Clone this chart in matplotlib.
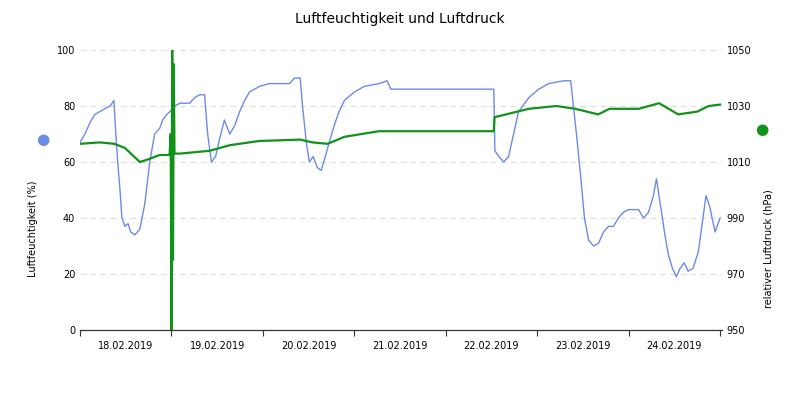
import numpy as np
import matplotlib
matplotlib.use("Agg")
import matplotlib.pyplot as plt

# hours since 18.02.2019 00:00
hum_h = [0, 1.3, 2.6, 3.9, 5.2, 6.5, 7.9, 8.9, 9.4, 9.9, 10.5, 11, 11.8, 12.6, 13.3, 14.4, 15.7, 17, 18.3,
         19.6, 20.9, 21.7, 22.8, 23.6, 24.9, 26.2, 28.8, 30.1, 31.4, 32.7, 33.5, 34.5, 35.6, 36.6, 37.9,
         39.3, 40.6, 41.9, 43.2, 44.5, 47.1, 49.7, 55, 56.3, 57.8, 58.4, 59.4, 60.2, 61.2, 62.3, 63.3,
         64.4, 65.4, 66.7, 68, 69.4, 72, 74.6, 78.5, 80.6, 81.6, 108.6, 108.9, 109.9, 111.2, 112.5,
         113.8, 115.1, 117.8, 120.4, 123, 126.9, 128.8, 129.5, 130.3, 131.4, 132.4, 133.5, 134.8, 136.1,
         137.4, 138.7, 140, 141.3, 142.6, 143.9, 146.6, 147.9, 149.2, 150.5, 151.3, 152.3, 153.4, 154.4,
         155.5, 156.5, 157.5, 158.6, 159.6, 160.9, 162.3, 163, 163.8, 164.3, 165.3, 165.9, 166.7, 168]
hum_v = [67, 70, 74, 77, 78, 79, 80, 82, 70, 60, 50, 40, 37, 38, 35, 34, 36, 45, 60,
         70, 72, 75, 77, 78, 80, 81, 81, 83, 84, 84, 70, 60, 62, 68, 75,
         70, 73, 78, 82, 85, 87, 88, 88, 90, 90, 80, 67, 60, 62, 58, 57,
         62, 67, 73, 78, 82, 85, 87, 88, 89, 86, 86, 64, 62, 60, 62,
         70, 78, 83, 86, 88, 89, 89, 80, 70, 55, 40, 32, 30, 31,
         35, 37, 37, 40, 42, 43, 43, 40, 42, 48, 54, 45, 35, 27,
         22, 19, 22, 24, 21, 22, 28, 35, 43, 48, 44, 40, 35, 40]

pres_h = [0, 5.2, 9, 11.8, 15.7, 18, 20.9, 23.5, 23.8, 24.0, 24.2, 24.4, 24.6, 24.8, 26.2, 34, 39.3,
          47, 57.8, 61, 65, 69.4, 78.5, 108.6, 108.8, 117.8, 125, 130, 136, 139, 146.6, 152, 157,
          162, 165, 168]
pres_v = [1016.5, 1017, 1016.5, 1015, 1010, 1011, 1012.5, 1012.5, 1020, 950, 1050, 975, 1045, 1013,
          1013, 1014, 1016, 1017.5, 1018, 1017, 1016.5, 1019, 1021, 1021, 1026, 1029, 1030, 1029,
          1027, 1029, 1029, 1031, 1027, 1028, 1030, 1030.5]

day_labels = ["18.02.2019", "19.02.2019", "20.02.2019", "21.02.2019",
              "22.02.2019", "23.02.2019", "24.02.2019"]

blue = "#6b8be8"
green = "#11931a"

fig, ax = plt.subplots(figsize=(8, 4), dpi=100)
fig.subplots_adjust(left=0.1, right=0.9025, top=0.875, bottom=0.175)
ax2 = ax.twinx()

ax.plot(hum_h, hum_v, color=blue, lw=1)
ax2.plot(pres_h, pres_v, color=green, lw=1.6)

ax.set_xlim(0, 168.5)
ax.set_ylim(0, 100)
ax2.set_ylim(950, 1050)
ax.set_yticks(range(0, 101, 20))
ax2.set_yticks(range(950, 1051, 20))
ax.set_xticks(np.arange(0, 169, 24))
ax.set_xticklabels([])
ax.set_xticks(np.arange(12, 168, 24), minor=True)
ax.set_xticklabels(day_labels, minor=True)
ax.tick_params(axis="x", which="minor", length=0, labelsize=7, pad=8)
ax.tick_params(axis="x", which="major", length=4, color="#333333")
ax.tick_params(axis="y", length=0, labelsize=7)
ax2.tick_params(axis="y", length=0, labelsize=7)
ax.grid(axis="y", color="#dddddd", ls=(0, (5, 4)), lw=0.8)

for a in (ax, ax2):
    for s in ("top", "left", "right"):
        a.spines[s].set_visible(False)
    a.spines["bottom"].set_color("#333333")

ax.set_ylabel("Luftfeuchtigkeit (%)", fontsize=7)
ax.yaxis.set_label_coords(-0.065, 0.36)
ax2.set_ylabel("relativer Luftdruck (hPa)", fontsize=7)
ax2.yaxis.set_label_coords(1.065, 0.29)
fig.text(0.054, 0.65, "\u25cf", color=blue, fontsize=11, ha="center", va="center")
fig.text(0.952, 0.675, "\u25cf", color=green, fontsize=11, ha="center", va="center")
fig.suptitle("Luftfeuchtigkeit und Luftdruck", fontsize=10, y=0.97)

fig.savefig("out.png")
